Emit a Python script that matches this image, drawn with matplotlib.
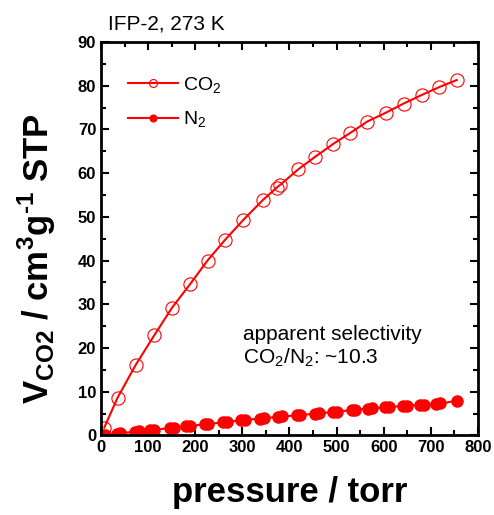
import matplotlib
matplotlib.use('Agg')
import matplotlib.pyplot as plt
import numpy as np
from matplotlib.ticker import MultipleLocator

plt.rcParams['font.family'] = ['Liberation Sans', 'DejaVu Sans']
plt.rcParams['mathtext.fontset'] = 'custom'
plt.rcParams['mathtext.rm'] = 'Liberation Sans'
plt.rcParams['mathtext.bf'] = 'Liberation Sans:bold'

# CO2 isotherm (torr, cm3/g STP)
co2_p = [7, 35, 74, 113, 150, 189, 226, 263, 302, 343, 373, 380, 419, 454,
         493, 529, 565, 604, 642, 681, 718, 755]
co2_v = [1.8, 8.6, 16.2, 22.9, 29.1, 34.6, 40.0, 44.7, 49.3, 53.8, 56.7, 57.3,
         60.9, 63.7, 66.7, 69.2, 71.8, 73.8, 75.9, 77.9, 79.7, 81.3]

# N2 isotherm
n2_p = [2, 9, 33, 41, 72, 80, 104, 112, 146, 154, 181, 189, 220, 228, 259, 267,
        298, 306, 337, 345, 376, 384, 415, 423, 454, 462, 493, 501, 532, 540,
        567, 575, 603, 611, 641, 649, 677, 685, 712, 720, 755]
n2_v = [0.1, 0.15, 0.4, 0.55, 0.8, 0.9, 1.15, 1.25, 1.7, 1.8, 2.05, 2.15, 2.55,
        2.65, 2.95, 3.05, 3.45, 3.55, 3.85, 3.95, 4.25, 4.35, 4.55, 4.65, 4.95,
        5.05, 5.35, 5.45, 5.75, 5.85, 6.15, 6.25, 6.4, 6.5, 6.7, 6.8, 6.95,
        7.05, 7.2, 7.3, 7.9]

fig = plt.figure(figsize=(4.94, 5.15), dpi=100)
ax = fig.add_axes([0.2045, 0.1546, 0.763, 0.7638])

ax.plot(co2_p, co2_v, '-o', color='red', lw=1.5, ms=9.5, mfc='none',
        mec='red', mew=0.8, label='CO$_2$')
ax.plot(n2_p, n2_v, '-o', color='red', lw=1.5, ms=8, mfc='red',
        mec='red', label='N$_2$')

ax.set_xlim(0, 800)
ax.set_ylim(0, 90)
ax.xaxis.set_major_locator(MultipleLocator(100))
ax.xaxis.set_minor_locator(MultipleLocator(50))
ax.yaxis.set_major_locator(MultipleLocator(10))
ax.yaxis.set_minor_locator(MultipleLocator(5))
ax.tick_params(which='both', direction='in', top=True, right=True, width=1.5)
ax.tick_params(which='major', length=6, labelsize=12)
ax.tick_params(which='minor', length=3.5)
for lab in ax.get_xticklabels() + ax.get_yticklabels():
    lab.set_fontweight('bold')
for s in ax.spines.values():
    s.set_linewidth(2)

ax.set_xlabel('pressure / torr', fontsize=25, fontweight='bold', va='top')
ax.xaxis.set_label_coords(0.5, -0.103)
ylab = 'V$_{\\mathbf{CO2}}$ / cm$^{\\mathbf{3}}$g$^{\\mathbf{\u2010' + '1}}$ STP'
ax.set_ylabel(ylab, fontsize=25, fontweight='bold')
ax.yaxis.set_label_coords(-0.115, 0.45)

ax.legend(loc='upper left', frameon=False, fontsize=14, handlelength=2.55,
          handletextpad=0.3, borderaxespad=0.6, labelspacing=0.75,
          markerscale=0.6, bbox_to_anchor=(0.02, 0.965))

fig.text(0.219, 0.942, 'IFP-2, 273 K', fontsize=15)
ax.text(0.376, 0.184, 'apparent selectivity\nCO$_2$/N$_2$: ~10.3', transform=ax.transAxes,
        fontsize=15, linespacing=1.1)

fig.savefig('out.png', dpi=100)
